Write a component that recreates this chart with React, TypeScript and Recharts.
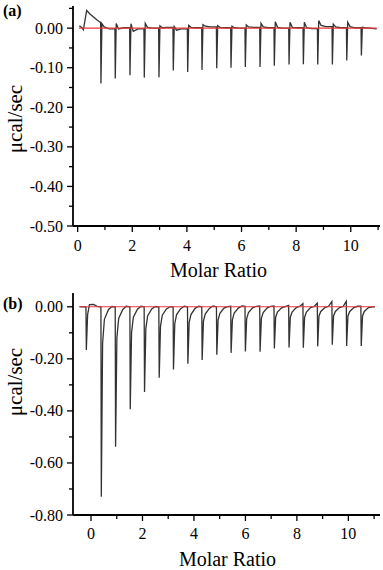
import React from 'react';
import { LineChart, Line, XAxis, YAxis } from 'recharts';

const FONT = "'Liberation Serif', Tinos, 'Times New Roman', 'DejaVu Serif', serif";
const INK = '#000';
const TRACE = '#333';
const BASE = '#e8383d';

// (a) injections: molar ratio, peak (µcal/sec), overshoot just after, settle level, level before next
const injA = [0.853, 1.377, 1.916, 2.44, 2.978, 3.502, 4.029, 4.553, 5.092, 5.615, 6.139, 6.678, 7.201, 7.74, 8.264, 8.791, 9.326, 9.853, 10.388];
const peakA = [-0.14, -0.127, -0.119, -0.125, -0.124, -0.107, -0.111, -0.106, -0.101, -0.1, -0.098, -0.098, -0.095, -0.092, -0.091, -0.092, -0.092, -0.082, -0.069];
const blipA = [0.011, 0.012, 0.011, 0.012, 0.006, 0.004, 0.007, 0.009, 0.006, 0.005, 0.008, 0.012, 0.016, 0.015, 0.015, 0.019, 0.01, 0.015, 0.002];
const restA = [0.003, -0.002, -0.008, 0.002, 0.001, -0.005, 0.002, 0.005, 0.002, 0.001, 0.003, 0.003, 0.002, 0.002, 0.001, 0.007, 0.003, 0.004, 0.001];
const midA = [-0.002, 0.001, -0.002, 0.0, 0.002, -0.002, 0.001, 0.003, 0.001, 0.0, 0.002, 0.001, 0.0, 0.001, -0.001, 0.004, 0.001, 0.001, 0.0];
// first small injection (positive peak) before the series
const leadA = [[0.06, 0.006], [0.15, 0.002], [0.21, -0.004], [0.33, 0.045], [0.45, 0.036], [0.57, 0.029], [0.7, 0.021], [0.82, 0.015]];
const endA = [10.95, -0.002];

// (b) injections
const injB = [-0.182, 0.4, 0.955, 1.525, 2.08, 2.65, 3.205, 3.764, 4.319, 4.889, 5.444, 5.999, 6.57, 7.125, 7.695, 8.25, 8.809, 9.375, 9.934, 10.501];
const peakB = [-0.166, -0.73, -0.538, -0.394, -0.327, -0.273, -0.241, -0.219, -0.204, -0.184, -0.177, -0.172, -0.173, -0.16, -0.156, -0.157, -0.152, -0.146, -0.151, -0.151];
const blipB = [0, 0, 0, 0, 0, 0, 0, 0, 0, 0, 0.002, 0.002, 0.003, 0.003, 0.005, 0.012, 0.014, 0.02, 0.021, 0.002];
const tail1B = [-0.03, -0.14, -0.12, -0.1, -0.085, -0.075, -0.065, -0.06, -0.055, -0.05, -0.05, -0.045, -0.045, -0.04, -0.04, -0.04, -0.035, -0.035, -0.035, -0.035];
const tail2B = [0.008, -0.048, -0.045, -0.04, -0.035, -0.032, -0.03, -0.03, -0.028, -0.025, -0.024, -0.022, -0.022, -0.02, -0.02, -0.02, -0.018, -0.018, -0.018, -0.018];
const tail3B = [0.009, -0.01, -0.01, -0.009, -0.008, -0.008, -0.007, -0.006, -0.006, -0.005, -0.005, -0.004, -0.004, -0.004, -0.003, -0.003, -0.003, -0.003, -0.003, -0.003];
const restB = [0.002, 0.001, 0.002, 0.002, 0.001, 0.0, 0.002, 0.002, 0.003, 0.001, 0.003, 0.002, 0.002, 0.001, 0.002, 0.001, 0.002, 0.001, 0.002, 0.0];
const leadB = [[-0.45, 0.001], [-0.3, 0.0]];
const endB = [11.03, 0.0];

const baseA = [{ x: 0.05, y: 0 }, { x: 10.95, y: 0 }];
const baseB = [{ x: -0.45, y: 0 }, { x: 11.03, y: 0 }];

const xTicks = [0, 1, 2, 3, 4, 5, 6, 7, 8, 9, 10, 11];
const xMajor = [0, 2, 4, 6, 8, 10];
const yTicksA = [-0.5, -0.45, -0.4, -0.35, -0.3, -0.25, -0.2, -0.15, -0.1, -0.05, 0, 0.05];
const yMajorA = [-0.5, -0.4, -0.3, -0.2, -0.1, 0];
const yTicksB = [-0.8, -0.7, -0.6, -0.5, -0.4, -0.3, -0.2, -0.1, 0];
const yMajorB = [-0.8, -0.6, -0.4, -0.2, 0];

type Pt = { x: number; y: number };

function buildA(): Pt[] {
  const pts: Pt[] = leadA.map(([x, y]) => ({ x, y }));
  injA.forEach((p, i) => {
    const pre = i === 0 ? leadA[leadA.length - 1][1] : midA[i - 1];
    pts.push({ x: p - 0.012, y: pre });
    pts.push({ x: p, y: peakA[i] });
    pts.push({ x: p + 0.035, y: blipA[i] });
    pts.push({ x: p + 0.12, y: restA[i] });
    pts.push({ x: p + 0.3, y: midA[i] });
  });
  pts.push({ x: endA[0], y: endA[1] });
  return pts;
}

function buildB(): Pt[] {
  const pts: Pt[] = leadB.map(([x, y]) => ({ x, y }));
  injB.forEach((p, i) => {
    pts.push({ x: p - 0.015, y: blipB[i] });
    pts.push({ x: p, y: peakB[i] });
    pts.push({ x: p + 0.05, y: tail1B[i] });
    pts.push({ x: p + 0.12, y: tail2B[i] });
    pts.push({ x: p + 0.28, y: tail3B[i] });
    pts.push({ x: p + 0.42, y: restB[i] });
  });
  pts.push({ x: endB[0], y: endB[1] });
  return pts;
}

const near = (list: number[], v: number) => list.some((m) => Math.abs(m - v) < 1e-6);
const txt = { fontFamily: FONT };

function XTick(props: any) {
  const { x, y, payload, dy } = props;
  const major = near(xMajor, payload.value);
  return (
    <g>
      <line x1={x} x2={x} y1={y} y2={y + (major ? 6 : 4)} stroke={INK} strokeWidth={1.3} />
      {major && (
        <text x={x} y={y + dy} textAnchor="middle" fontSize={16} style={txt} fill={INK}>
          {payload.value}
        </text>
      )}
    </g>
  );
}

function YTick(props: any) {
  const { x, y, payload, majors } = props;
  const major = near(majors, payload.value);
  return (
    <g>
      <line x1={x - (major ? 6 : 4)} x2={x} y1={y} y2={y} stroke={INK} strokeWidth={1.3} />
      {major && (
        <text x={x - 10} y={y + 5.5} textAnchor="end" fontSize={16} style={txt} fill={INK}>
          {payload.value.toFixed(2)}
        </text>
      )}
    </g>
  );
}

function XTitle(props: any) {
  const { viewBox, dx, dy } = props;
  if (!viewBox) return null;
  return (
    <text x={viewBox.x + viewBox.width / 2 + dx} y={viewBox.y + dy} textAnchor="middle" fontSize={20} style={txt} fill={INK}>
      Molar Ratio
    </text>
  );
}

function YTitle(props: any) {
  const { viewBox, dy } = props;
  if (!viewBox) return null;
  const cx = 15;
  const cy = viewBox.y + viewBox.height / 2 + dy;
  return (
    <text x={cx} y={cy} transform={`rotate(-90 ${cx} ${cy})`} textAnchor="middle" dominantBaseline="central" fontSize={21} style={txt} fill={INK}>
      μcal/sec
    </text>
  );
}

interface PanelProps {
  trace: Pt[];
  base: Pt[];
  xDomain: [number, number];
  yDomain: [number, number];
  yTicks: number[];
  yMajor: number[];
  marginTop: number;
  xAxisHeight: number;
  tickDy: number;
  titleDx: number;
  titleDy: number;
  yTitleDy: number;
}

function Panel(p: PanelProps) {
  return (
    <LineChart width={383} height={285} margin={{ top: p.marginTop, right: 3, bottom: 0, left: 0 }}>
      <XAxis
        xAxisId="b"
        dataKey="x"
        type="number"
        domain={p.xDomain}
        allowDataOverflow
        ticks={xTicks}
        interval={0}
        tickSize={0}
        tickMargin={0}
        height={p.xAxisHeight}
        axisLine={{ stroke: INK, strokeWidth: 1.8 }}
        tick={(t: any) => <XTick {...t} dy={p.tickDy} />}
        label={<XTitle dx={p.titleDx} dy={p.titleDy} />}
      />
      <XAxis
        xAxisId="t"
        orientation="top"
        dataKey="x"
        type="number"
        domain={p.xDomain}
        allowDataOverflow
        height={0}
        tick={false}
        tickLine={false}
        axisLine={{ stroke: INK, strokeWidth: 1.4 }}
      />
      <YAxis
        yAxisId="l"
        type="number"
        domain={p.yDomain}
        allowDataOverflow
        ticks={p.yTicks}
        interval={0}
        tickSize={0}
        tickMargin={0}
        width={73}
        axisLine={{ stroke: INK, strokeWidth: 1.8 }}
        tick={(t: any) => <YTick {...t} majors={p.yMajor} />}
        label={<YTitle dy={p.yTitleDy} />}
      />
      <YAxis
        yAxisId="r"
        orientation="right"
        type="number"
        domain={p.yDomain}
        allowDataOverflow
        width={0}
        tick={false}
        tickLine={false}
        axisLine={{ stroke: INK, strokeWidth: 1.4 }}
      />
      <Line xAxisId="b" yAxisId="l" data={p.trace} dataKey="y" type="linear" stroke={TRACE} strokeWidth={1.3} dot={false} isAnimationActive={false} />
      <Line xAxisId="b" yAxisId="l" data={p.base} dataKey="y" type="linear" stroke={BASE} strokeWidth={1.1} dot={false} isAnimationActive={false} />
    </LineChart>
  );
}

export default function App() {
  const traceA = buildA();
  const traceB = buildB();
  return (
    <div style={{ position: 'absolute', left: 0, top: 0, width: 383, height: 570, background: '#fff', fontFamily: FONT }}>
      <div style={{ position: 'absolute', left: 0, top: 0 }}>
        <Panel
          trace={traceA}
          base={baseA}
          xDomain={[-0.17, 11.07]}
          yDomain={[-0.5, 0.056]}
          yTicks={yTicksA}
          yMajor={yMajorA}
          marginTop={6}
          xAxisHeight={59}
          tickDy={25}
          titleDx={-8}
          titleDy={51}
          yTitleDy={3}
        />
      </div>
      <div style={{ position: 'absolute', left: 0, top: 285 }}>
        <Panel
          trace={traceB}
          base={baseB}
          xDomain={[-0.7, 11.23]}
          yDomain={[-0.8, 0.053]}
          yTicks={yTicksB}
          yMajor={yMajorB}
          marginTop={8}
          xAxisHeight={55}
          tickDy={24}
          titleDx={1}
          titleDy={51}
          yTitleDy={-22}
        />
      </div>
      <svg width={383} height={570} style={{ position: 'absolute', left: 0, top: 0, pointerEvents: 'none' }}>
        <text x={3} y={16} fontSize={16} fontWeight="bold" style={txt} fill={INK}>(a)</text>
        <text x={3} y={309} fontSize={16} fontWeight="bold" style={txt} fill={INK}>(b)</text>
      </svg>
    </div>
  );
}
